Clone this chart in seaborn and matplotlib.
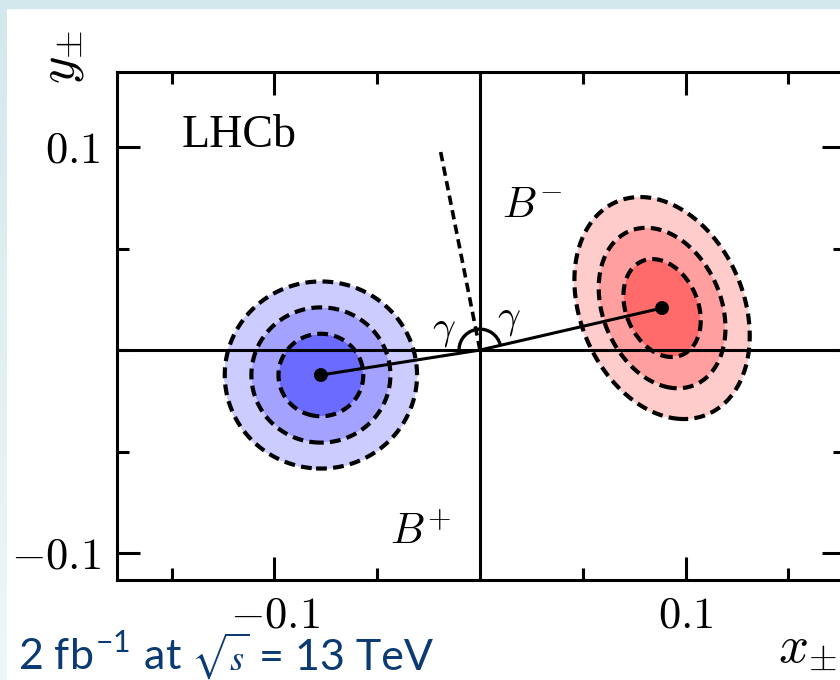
import numpy as np
import pandas as pd
import seaborn as sns
import matplotlib.pyplot as plt
from matplotlib.patches import Arc

# --- values ---
charge = ['B+', 'B-']
x_centre = [-0.0774, 0.0886]
y_centre = [-0.0123, 0.0207]
sigma_x = [0.0136, 0.0124]
sigma_y = [0.0134, 0.0159]
rho = [0.0, -0.25]
chi2_levels = [2.30, 6.18, 11.83]          # 1, 2, 3 sigma in 2D
fills = {'B+': ['#6b6bff', '#a3a3ff', '#ccccff'],
         'B-': ['#ff6b6b', '#ff9f9f', '#ffcccc']}
bisector_len = 0.1017
x_ticks = [-0.1, 0.1]
x_minor = [-0.15, -0.05, 0.05, 0.15]
y_ticks = [-0.1, 0.1]
y_minor = [-0.05, 0.0, 0.05]
tick_labels = [r'$-0.1$', r'$0.1$']

sns.set_theme(style='ticks')
plt.rcParams['font.family'] = ['Liberation Serif', 'DejaVu Serif']
plt.rcParams['mathtext.fontset'] = 'cm'
plt.rcParams['text.color'] = 'black'
plt.rcParams['xtick.color'] = 'black'
plt.rcParams['ytick.color'] = 'black'
plt.rcParams['xtick.labelcolor'] = 'black'
plt.rcParams['ytick.labelcolor'] = 'black'

fig = plt.figure(figsize=(8.4, 6.8), dpi=100)
fig.patch.set_facecolor('white')

# slide frame: teal strip on top, fading strip on the left
fig.patches.append(plt.Rectangle((0, 1 - 8 / 680), 1, 8 / 680, transform=fig.transFigure,
                                 color='#d3e8ec', zorder=0))
strip = fig.add_axes([0, 0, 7 / 840, 1])
grad = np.linspace(0, 1, 256).reshape(-1, 1)
strip.imshow(grad, aspect='auto', extent=[0, 1, 0, 1],
             cmap=sns.blend_palette(['#eef7f9', '#d3e8ec'], as_cmap=True), origin='lower')
strip.axis('off')

ax = fig.add_axes([117 / 840, 100 / 680, 728 / 840, 508 / 680])
ax.set_xlim(-0.1766, 0.1776)
ax.set_ylim(-0.1133, 0.137)

dash = (0, (2.6, 1.5))

# likelihood contours
gx = np.linspace(-0.1766, 0.1776, 700)
gy = np.linspace(-0.1133, 0.137, 600)
X, Y = np.meshgrid(gx, gy)
for i, c in enumerate(charge):
    dx = (X - x_centre[i]) / sigma_x[i]
    dy = (Y - y_centre[i]) / sigma_y[i]
    chi2 = (dx ** 2 - 2 * rho[i] * dx * dy + dy ** 2) / (1 - rho[i] ** 2)
    ax.contourf(X, Y, chi2, levels=[0] + chi2_levels, colors=fills[c], zorder=1)
    cs = ax.contour(X, Y, chi2, levels=chi2_levels, colors='black', linewidths=3.0, zorder=2)
    cs.set_linestyle(dash)

# axes through the origin
ax.axhline(0, color='black', lw=2.2, zorder=3)
ax.axvline(0, color='black', lw=2.2, zorder=3)

# lines from the origin to the two centres
df = pd.DataFrame({'x': [x_centre[0], 0.0, x_centre[1]],
                   'y': [y_centre[0], 0.0, y_centre[1]]})
sns.lineplot(data=df, x='x', y='y', sort=False, color='black', lw=2.2, ax=ax, zorder=4)
sns.scatterplot(x=x_centre, y=y_centre, color='black', s=100, edgecolor='none', ax=ax, zorder=5)

# bisector and gamma arc
a_red = np.degrees(np.arctan2(y_centre[1], x_centre[1]))
a_blue = np.degrees(np.arctan2(y_centre[0], x_centre[0])) % 360
a_bis = np.radians((a_red + a_blue) / 2)
ax.plot([0, bisector_len * np.cos(a_bis)], [0, bisector_len * np.sin(a_bis)],
        color='black', lw=2.6, ls=dash, zorder=4)
ax.add_patch(Arc((0, 0), 0.0204, 0.0206, theta1=a_red, theta2=a_blue,
                 color='black', lw=2.4, zorder=4))

ax.text(-0.0175, 0.0005, r'$\gamma$', fontsize=29, ha='center', va='bottom', zorder=6)
ax.text(0.0140, 0.0060, r'$\gamma$', fontsize=29, ha='center', va='bottom', zorder=6)
ax.text(0.0105, 0.0655, r'$B^{-}$', fontsize=31, ha='left', va='baseline')
ax.text(-0.0440, -0.0960, r'$B^{+}$', fontsize=31, ha='left', va='baseline')
ax.text(-0.145, 0.1, 'LHCb', fontsize=33, ha='left', va='baseline')

# ticks
ax.set_xticks(x_ticks, labels=tick_labels)
ax.set_xticks(x_minor, minor=True)
ax.set_yticks(y_ticks, labels=tick_labels)
ax.set_yticks(y_minor, minor=True)
ax.tick_params(which='both', direction='in', top=True, right=True, width=2.2,
               color='black', labelcolor='black', labelsize=32, pad=12)
ax.tick_params(which='major', length=16.5)
ax.tick_params(which='minor', length=8.6)
for s in ax.spines.values():
    s.set_linewidth(2.2)
    s.set_color('black')
ax.set_xlabel('')
ax.set_ylabel('')

fig.text(62 / 840, 1 - 57 / 680, r'$y_{\pm}$', fontsize=38, rotation=90, ha='center', va='center')
fig.text(778 / 840, 1 - 650 / 680, r'$x_{\pm}$', fontsize=38, ha='left', va='center')

# footer, written in three pieces so the root sign can be a bit smaller
blue_txt = dict(color='#0c3a73', family=['Lato', 'DejaVu Sans'], ha='left', va='baseline')
renderer = fig.canvas.get_renderer()
base = 10 / 680
t1 = fig.text(18 / 840, base, r'2 fb$^{\mathregular{-1}}$ at', fontsize=31, **blue_txt)
x1 = t1.get_window_extent(renderer).x1 + 9
t2 = fig.text(x1 / 840, base, r'$\sqrt{s}$', fontsize=26, math_fontfamily='stix', **blue_txt)
x2 = t2.get_window_extent(renderer).x1 + 9
fig.text(x2 / 840, base, '= 13 TeV', fontsize=31, **blue_txt)

fig.savefig('out.png', dpi=100)
